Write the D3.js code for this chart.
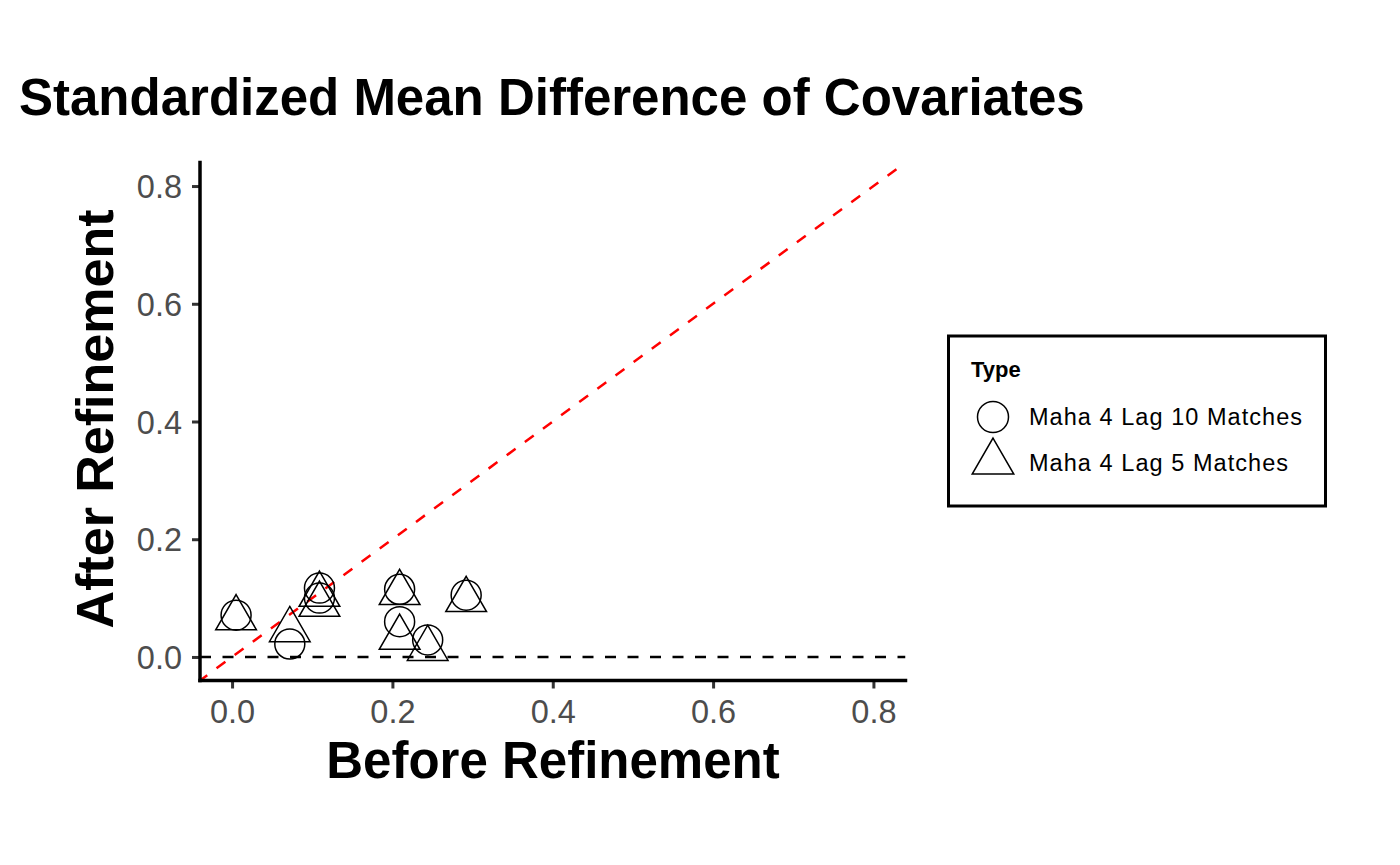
<!DOCTYPE html>
<html>
<head>
<meta charset="utf-8">
<script src="https://cdn.jsdelivr.net/npm/d3@7"></script>
<style>
  body { margin: 0; background: #fff; }
  text { font-family: "Liberation Sans", Arial, sans-serif; }
</style>
</head>
<body>
<div id="chart"></div>
<script>
// data
var seriesNames = ["Maha 4 Lag 10 Matches", "Maha 4 Lag 5 Matches"];
var circleX = [0.005, 0.072, 0.109, 0.109, 0.209, 0.209, 0.244, 0.292];
var circleY = [0.071, 0.022, 0.117, 0.100, 0.115, 0.060, 0.029, 0.105];
var triX = [0.005, 0.072, 0.109, 0.109, 0.209, 0.209, 0.244, 0.292];
var triY = [0.066, 0.046, 0.106, 0.089, 0.109, 0.033, 0.014, 0.097];
var tickVals = [0, 0.2, 0.4, 0.6, 0.8];

var W = 1400, H = 865;
var panel = {left: 200, right: 905.5, top: 162.5, bottom: 680.5};

var svg = d3.select("#chart").append("svg")
            .attr("width", W)
            .attr("height", H);

var xScale = d3.scaleLinear().domain([-0.04, 0.84]).range([panel.left, panel.right]);
var yScale = d3.scaleLinear().domain([-0.04, 0.84]).range([panel.bottom, panel.top]);

// title
svg.append("text")
   .attr("x", 19).attr("y", 115)
   .attr("font-size", 51).attr("font-weight", "bold")
   .text("Standardized Mean Difference of Covariates");

// clip for the reference lines
svg.append("clipPath").attr("id", "clip")
   .append("rect")
   .attr("x", panel.left).attr("y", panel.top)
   .attr("width", panel.right - panel.left)
   .attr("height", panel.bottom - panel.top);

var plot = svg.append("g");
var lines = plot.append("g").attr("clip-path", "url(#clip)");

// y = 0 reference
lines.append("line")
     .attr("x1", xScale(-0.04)).attr("x2", xScale(0.84))
     .attr("y1", yScale(0)).attr("y2", yScale(0))
     .attr("stroke", "#000").attr("stroke-width", 2.5)
     .attr("stroke-dasharray", "11,11.5");

// y = x reference
lines.append("line")
     .attr("x1", xScale(-0.04)).attr("y1", yScale(-0.04))
     .attr("x2", xScale(0.84)).attr("y2", yScale(0.84))
     .attr("stroke", "#ff0000").attr("stroke-width", 2.5)
     .attr("stroke-dasharray", "11,11.5")
     .attr("stroke-dashoffset", 2);

// points
var circles = circleX.map(function(d, i){ return {x: d, y: circleY[i]}; });
var tris = triX.map(function(d, i){ return {x: d, y: triY[i]}; });

function triPath(r){
    var h = r * Math.sqrt(3) / 2;
    return "M0," + (-r) + "L" + h + "," + (r/2) + "L" + (-h) + "," + (r/2) + "Z";
}

plot.selectAll(".c").data(circles).enter().append("circle")
    .attr("cx", function(d){ return xScale(d.x); })
    .attr("cy", function(d){ return yScale(d.y); })
    .attr("r", 15)
    .attr("fill", "none").attr("stroke", "#000").attr("stroke-width", 1.5);

plot.selectAll(".t").data(tris).enter().append("path")
    .attr("d", triPath(23.5))
    .attr("transform", function(d){ return "translate(" + xScale(d.x) + "," + yScale(d.y) + ")"; })
    .attr("fill", "none").attr("stroke", "#000").attr("stroke-width", 1.5)
    .attr("stroke-linejoin", "miter");

// axes
var xAxis = d3.axisBottom(xScale).tickValues(tickVals).tickSize(8).tickPadding(6)
              .tickFormat(d3.format(".1f"));
var yAxis = d3.axisLeft(yScale).tickValues(tickVals).tickSize(8).tickPadding(10)
              .tickFormat(d3.format(".1f"));

var xAxisGroup = svg.append("g")
                    .attr("transform", "translate(0," + panel.bottom + ")")
                    .call(xAxis);
var yAxisGroup = svg.append("g")
                    .attr("transform", "translate(" + panel.left + ",0)")
                    .call(yAxis);

[xAxisGroup, yAxisGroup].forEach(function(g){
    g.select(".domain").remove();
    g.selectAll(".tick line").attr("stroke", "#333333").attr("stroke-width", 3);
    g.selectAll(".tick text")
     .attr("fill", "#4d4d4d")
     .attr("font-size", 32.5)
     .attr("font-family", "Liberation Sans, Arial, sans-serif");
});
xAxisGroup.selectAll(".tick text").attr("dy", "0.89em");
yAxisGroup.selectAll(".tick text").attr("dy", "0.36em");

// axis lines
svg.append("line")
   .attr("x1", panel.left).attr("x2", panel.right)
   .attr("y1", panel.bottom).attr("y2", panel.bottom)
   .attr("stroke", "#000").attr("stroke-width", 3.5).attr("stroke-linecap", "square");
svg.append("line")
   .attr("x1", panel.left).attr("x2", panel.left)
   .attr("y1", panel.top).attr("y2", panel.bottom)
   .attr("stroke", "#000").attr("stroke-width", 3.5).attr("stroke-linecap", "square");

// axis titles
svg.append("text")
   .attr("x", 553).attr("y", 778)
   .attr("text-anchor", "middle")
   .attr("font-size", 51).attr("font-weight", "bold")
   .text("Before Refinement");

svg.append("text")
   .attr("transform", "translate(113,419) rotate(-90)")
   .attr("text-anchor", "middle")
   .attr("font-size", 52).attr("font-weight", "bold")
   .text("After Refinement");

// legend
var legend = svg.append("g");
legend.append("rect")
      .attr("x", 948.5).attr("y", 336)
      .attr("width", 377).attr("height", 170)
      .attr("fill", "#fff").attr("stroke", "#000").attr("stroke-width", 3);
legend.append("text")
      .attr("x", 971).attr("y", 377)
      .attr("font-size", 22).attr("font-weight", "bold")
      .text("Type");

var labelWidths = [273, 259];
var items = legend.selectAll(".item").data(seriesNames).enter().append("g")
                  .attr("transform", function(d, i){ return "translate(993," + (417 + i * 46) + ")"; });
items.each(function(d, i){
    var g = d3.select(this);
    if(i == 0){
        g.append("circle").attr("r", 15.5)
         .attr("fill", "none").attr("stroke", "#000").attr("stroke-width", 1.5);
    } else {
        g.append("path").attr("d", triPath(24)).attr("transform", "translate(0,-1)")
         .attr("fill", "none").attr("stroke", "#000").attr("stroke-width", 1.5);
    }
    g.append("text")
     .attr("x", 36).attr("y", 8)
     .attr("font-size", 23.5)
     .attr("textLength", labelWidths[i])
     .attr("lengthAdjust", "spacing")
     .text(d);
});
</script>
</body>
</html>
